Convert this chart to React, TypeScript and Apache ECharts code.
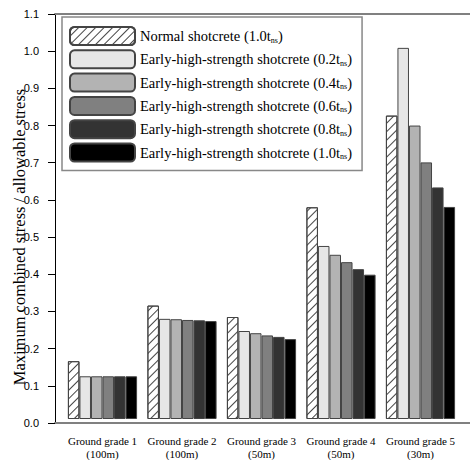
import React, { useEffect, useRef } from "react";
import * as echarts from "echarts";

const categories = [
  "Ground grade 1\n(100m)",
  "Ground grade 2\n(100m)",
  "Ground grade 3\n(50m)",
  "Ground grade 4\n(50m)",
  "Ground grade 5\n(30m)",
];
const normal10 = [0.157, 0.308, 0.277, 0.575, 0.824];
const early02 = [0.116, 0.272, 0.239, 0.47, 1.008];
const early04 = [0.116, 0.271, 0.233, 0.446, 0.797];
const early06 = [0.116, 0.269, 0.227, 0.426, 0.697];
const early08 = [0.116, 0.268, 0.223, 0.407, 0.629];
const early10 = [0.116, 0.266, 0.217, 0.392, 0.576];

const seriesNames = [
  "Normal shotcrete (1.0tns)",
  "Early-high-strength shotcrete (0.2tns)",
  "Early-high-strength shotcrete (0.4tns)",
  "Early-high-strength shotcrete (0.6tns)",
  "Early-high-strength shotcrete (0.8tns)",
  "Early-high-strength shotcrete (1.0tns)",
];
const legendRich = [
  "{a|Normal shotcrete (1.0t}{s|ns}{a|)}",
  "{a|Early-high-strength shotcrete (0.2t}{s|ns}{a|)}",
  "{a|Early-high-strength shotcrete (0.4t}{s|ns}{a|)}",
  "{a|Early-high-strength shotcrete (0.6t}{s|ns}{a|)}",
  "{a|Early-high-strength shotcrete (0.8t}{s|ns}{a|)}",
  "{a|Early-high-strength shotcrete (1.0t}{s|ns}{a|)}",
];
const seriesData = [normal10, early02, early04, early06, early08, early10];
const fills = ["#ffffff", "#e6e6e6", "#b3b3b3", "#808080", "#333333", "#000000"];
const yTicks = [0, 1.1, 0.1];

const SERIF = "Liberation Serif";
const SANS = "Liberation Sans";

export default function App() {
  const ref = useRef<HTMLDivElement>(null);
  useEffect(() => {
    if (!ref.current) return;
    const chart = echarts.init(ref.current, null, { renderer: "svg" });
    const series = seriesData.map((d, i) => ({
      name: seriesNames[i],
      type: "bar",
      xAxisIndex: 1,
      yAxisIndex: 1,
      data: d,
      barGap: "0%",
      barCategoryGap: "13%",
      itemStyle: {
        color: fills[i],
        borderColor: "#444",
        borderWidth: 1,
        decal:
          i === 0
            ? {
                symbol: "rect",
                symbolSize: 1,
                color: "#444",
                backgroundColor: "#ffffff",
                dashArrayX: [1, 0],
                dashArrayY: [1, 5],
                rotation: -Math.PI / 4,
              }
            : "none",
      },
    }));
    chart.setOption({
      animation: false,
      backgroundColor: "#ffffff",
      grid: [
        { left: 55, right: 0, top: 14, bottom: 37 },
        { left: 62.75, width: 397.5, top: 14, bottom: 37 },
      ],
      xAxis: [
        {
          gridIndex: 0,
          type: "value",
          min: 0,
          max: 1,
          axisLine: { show: true, lineStyle: { color: "#808080", width: 2 } },
          axisTick: { show: false },
          axisLabel: { show: false },
          splitLine: { show: false },
        },
        {
          gridIndex: 1,
          type: "category",
          data: categories,
          axisLine: { show: false },
          axisTick: { show: false },
          axisLabel: {
            interval: 0,
            margin: 15,
            fontFamily: SERIF,
            fontSize: 11,
            lineHeight: 13,
            color: "#000",
          },
        },
        {
          gridIndex: 0,
          type: "value",
          position: "top",
          min: 0,
          max: 1,
          axisLine: { show: true, lineStyle: { color: "#808080", width: 2 } },
          axisTick: { show: false },
          axisLabel: { show: false },
          splitLine: { show: false },
        },
      ],
      yAxis: [
        {
          gridIndex: 0,
          type: "value",
          min: yTicks[0],
          max: yTicks[1],
          interval: yTicks[2],
          axisLine: { show: true, lineStyle: { color: "#000", width: 1 } },
          axisTick: { show: true, inside: false, length: 7, lineStyle: { color: "#000" } },
          axisLabel: {
            margin: 16,
            fontFamily: SANS,
            fontSize: 11,
            color: "#000",
            formatter: (v: number) => v.toFixed(1),
          },
          splitLine: { show: false },
        },
        {
          gridIndex: 1,
          type: "value",
          min: yTicks[0],
          max: yTicks[1],
          interval: yTicks[2],
          show: false,
        },
      ],
      legend: {
        orient: "vertical",
        left: 62,
        top: 17,
        padding: [9, 10, 8, 7],
        itemWidth: 65,
        itemHeight: 18,
        itemGap: 3.3,
        borderColor: "#888",
        borderWidth: 1.5,
        backgroundColor: "#ffffff",
        data: seriesNames,
        formatter: (name: string) => legendRich[seriesNames.indexOf(name)],
        textStyle: {
          rich: {
            a: { fontFamily: SERIF, fontSize: 14.5, color: "#000", lineHeight: 16 },
            s: {
              fontFamily: SERIF,
              fontSize: 8,
              color: "#000",
              lineHeight: 16,
              verticalAlign: "bottom",
              padding: [6, 0, 0, 0],
            },
          },
        },
      },
      graphic: [
        {
          type: "text",
          rotation: Math.PI / 2,
          x: 19,
          y: 237,
          style: {
            text: "Maximum combined stress / allowable stress",
            fontFamily: SERIF,
            fontSize: 16.5,
            fill: "#000",
            align: "center",
            verticalAlign: "middle",
          },
        },
      ],
      series,
    });
    return () => chart.dispose();
  }, []);
  return (
    <div
      ref={ref}
      style={{ position: "fixed", left: 0, top: 0, width: 470, height: 460 }}
    />
  );
}
